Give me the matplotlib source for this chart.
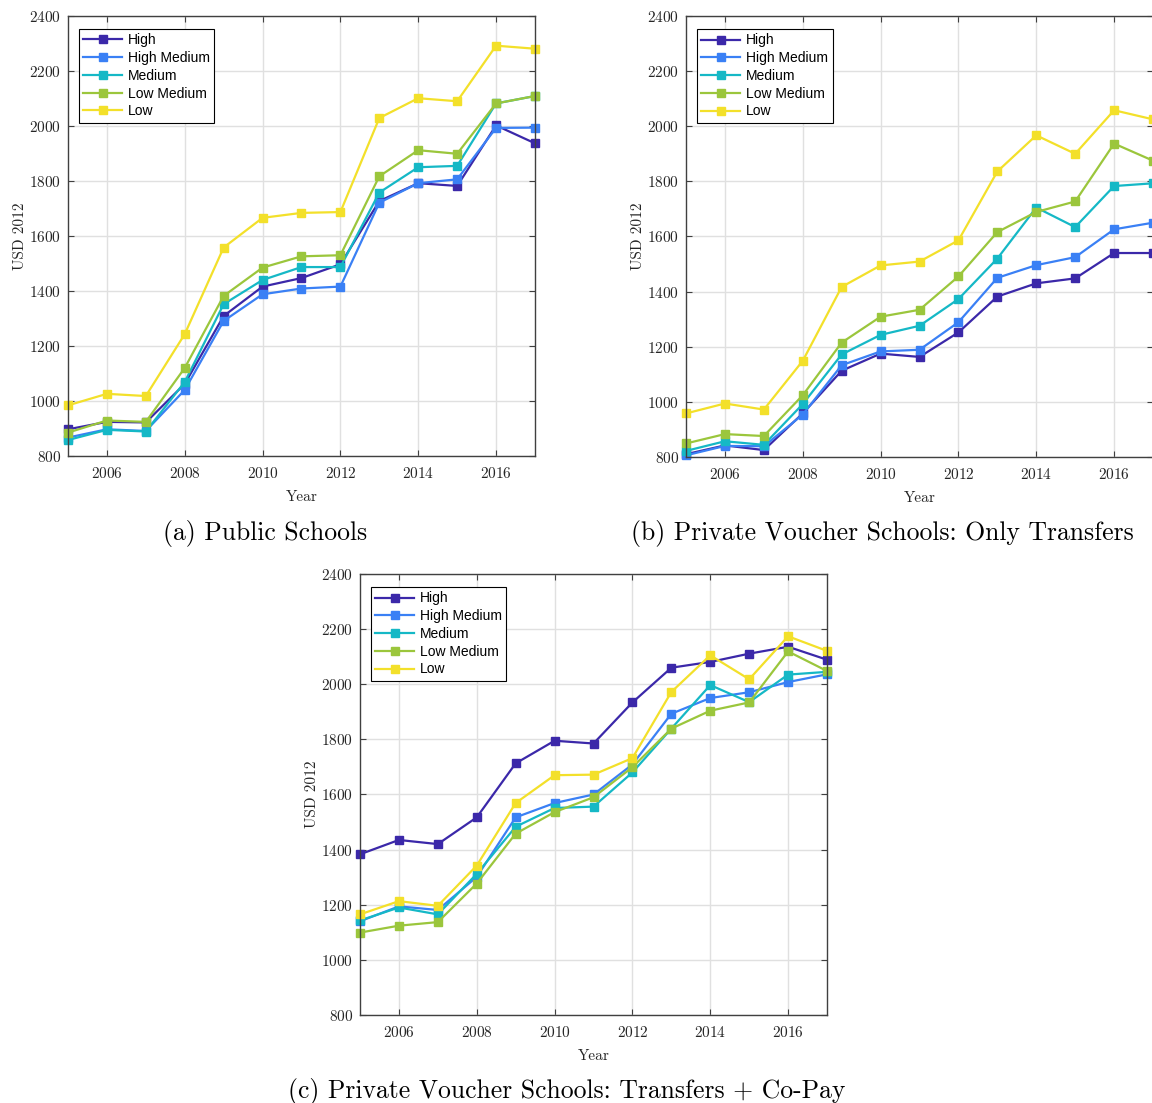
import matplotlib
matplotlib.use("Agg")
import matplotlib.pyplot as plt

plt.rcParams['font.family'] = 'cmr10'
plt.rcParams['axes.formatter.use_mathtext'] = True
plt.rcParams['mathtext.fontset'] = 'cm'

years = list(range(2005, 2018))
groups = ['High', 'High Medium', 'Medium', 'Low Medium', 'Low']
colors = ['#3b28a9', '#3a80f5', '#15b8c6', '#9bc63c', '#f3e02a']

# spending per student, USD 2012
public_high = [897, 924, 922, 1062, 1309, 1416, 1447, 1497, 1727, 1792, 1782, 2002, 1937]
public_high_med = [867, 897, 891, 1040, 1291, 1388, 1409, 1416, 1721, 1792, 1806, 1993, 1994]
public_med = [858, 895, 889, 1069, 1352, 1440, 1487, 1487, 1758, 1850, 1855, 2082, 2109]
public_low_med = [885, 929, 924, 1120, 1382, 1485, 1526, 1530, 1817, 1912, 1899, 2082, 2109]
public_low = [984, 1026, 1018, 1243, 1558, 1666, 1684, 1687, 2029, 2101, 2090, 2292, 2281]

transfers_high = [810, 842, 825, 958, 1113, 1175, 1163, 1252, 1382, 1430, 1448, 1540, 1540]
transfers_high_med = [806, 840, 839, 954, 1133, 1183, 1189, 1289, 1450, 1496, 1525, 1626, 1650]
transfers_med = [822, 857, 844, 992, 1172, 1243, 1276, 1373, 1520, 1705, 1634, 1783, 1793]
transfers_low_med = [849, 883, 876, 1024, 1215, 1309, 1334, 1455, 1616, 1689, 1727, 1937, 1875]
transfers_low = [958, 994, 972, 1149, 1417, 1495, 1509, 1586, 1836, 1967, 1900, 2058, 2025]

copay_high = [1383, 1435, 1420, 1517, 1713, 1795, 1785, 1934, 2060, 2081, 2111, 2136, 2089]
copay_high_med = [1140, 1194, 1181, 1301, 1517, 1569, 1600, 1709, 1893, 1950, 1971, 2008, 2036]
copay_med = [1143, 1190, 1165, 1312, 1483, 1551, 1556, 1680, 1839, 1997, 1935, 2035, 2045]
copay_low_med = [1099, 1124, 1137, 1277, 1458, 1536, 1590, 1699, 1839, 1904, 1934, 2119, 2048]
copay_low = [1165, 1213, 1196, 1342, 1569, 1670, 1672, 1732, 1972, 2105, 2018, 2174, 2121]

panels = [
    ([0.0590, 0.5866, 0.4054, 0.3989],
     [public_high, public_high_med, public_med, public_low_med, public_low],
     '(a) Public Schools', (0.230, 0.5166)),
    ([0.5955, 0.5857, 0.4054, 0.3998],
     [transfers_high, transfers_high_med, transfers_med, transfers_low_med, transfers_low],
     '(b) Private Voucher Schools: Only Transfers', (0.7656, 0.5166)),
    ([0.3125, 0.0798, 0.4054, 0.3998],
     [copay_high, copay_high_med, copay_med, copay_low_med, copay_low],
     '(c) Private Voucher Schools: Transfers + Co-Pay', (0.492, 0.0102)),
]

fig = plt.figure(figsize=(11.52, 11.03), dpi=100)

for rect, series, caption, cpos in panels:
    ax = fig.add_axes(rect)
    for vals, name, c in zip(series, groups, colors):
        ax.plot(years, vals, color=c, lw=1.6, marker='s', ms=6, label=name, clip_on=False)
    ax.set_xlim(2005, 2017)
    ax.set_ylim(800, 2400)
    ax.set_xticks(range(2006, 2017, 2))
    ax.set_yticks(range(800, 2401, 200))
    ax.grid(True, color='#e0e0e0', lw=1.0)
    ax.set_axisbelow(True)
    ax.tick_params(direction='in', length=4.5, width=0.8, color='#404040',
                   top=True, right=True, labelsize=11, labelcolor='#262626')
    ax.tick_params(axis='x', pad=7)
    ax.tick_params(axis='y', pad=5)
    for s in ax.spines.values():
        s.set_color('#404040')
        s.set_linewidth(1.0)
    ax.set_xlabel('Year', fontsize=11, color='#262626', labelpad=7)
    ax.set_ylabel('USD 2012', fontsize=11, color='#262626', labelpad=1.5)
    leg = ax.legend(loc='upper left', bbox_to_anchor=(0.0236, 0.970), borderaxespad=0,
                    prop={'family': 'Liberation Sans', 'size': 10}, fancybox=False,
                    framealpha=1, edgecolor='black', handlelength=2.8, handletextpad=0.45,
                    labelspacing=0.27, borderpad=0.3)
    leg.get_frame().set_linewidth(0.8)
    fig.text(cpos[0], cpos[1], caption, fontsize=18.5, ha='center', va='center')

fig.savefig('out.png', dpi=100)
